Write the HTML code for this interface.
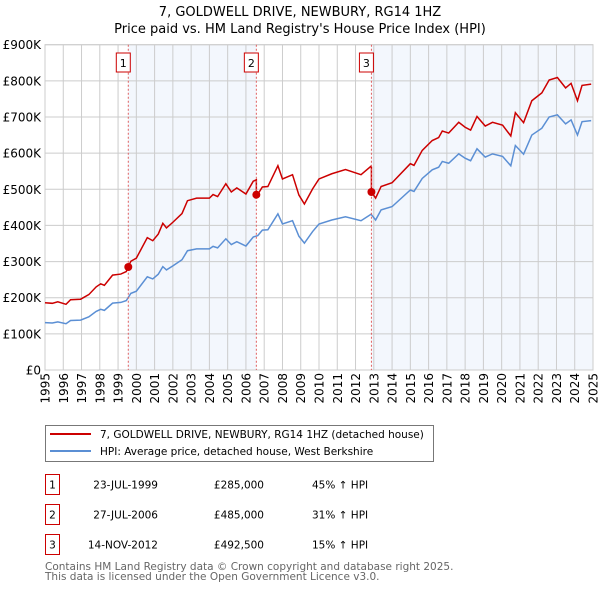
<!DOCTYPE html>
<html><head><meta charset="utf-8"><style>
body{margin:0;background:#fff;font-family:"DejaVu Sans","Liberation Sans",sans-serif;}
svg text{font-family:"DejaVu Sans","Liberation Sans",sans-serif;}
</style></head><body>
<svg id="chart" width="600" height="590" viewBox="0 0 600 590" xmlns="http://www.w3.org/2000/svg">
<text x="300" y="16" text-anchor="middle" font-size="13">7, GOLDWELL DRIVE, NEWBURY, RG14 1HZ</text>
<text x="300" y="33" text-anchor="middle" font-size="13">Price paid vs. HM Land Registry's House Price Index (HPI)</text>
<g id="plot"></g>
<g>
<rect x="45.5" y="425.5" width="388" height="36" fill="#fff" stroke="#777"/>
<line x1="50" y1="434" x2="91" y2="434" stroke="#cc0000" stroke-width="2"/>
<text x="100" y="438" font-size="10.5">7, GOLDWELL DRIVE, NEWBURY, RG14 1HZ (detached house)</text>
<line x1="50" y1="451" x2="91" y2="451" stroke="#5b8fd4" stroke-width="2"/>
<text x="100" y="455" font-size="10.5">HPI: Average price, detached house, West Berkshire</text>
</g>
<g id="table"></g>
<text x="45" y="570" font-size="10.5" fill="#666">Contains HM Land Registry data © Crown copyright and database right 2025.</text>
<text x="45" y="580" font-size="10.5" fill="#666">This data is licensed under the Open Government Licence v3.0.</text>
</svg>
<script>
const hpiYears=[1995.0,1995.4,1995.7,1996.15,1996.4,1996.95,1997.4,1997.8,1998.05,1998.25,1998.7,1999.15,1999.45,1999.7,2000.0,2000.6,2000.9,2001.2,2001.45,2001.65,2002.0,2002.5,2002.8,2003.3,2004.0,2004.2,2004.45,2004.9,2005.2,2005.5,2006.0,2006.4,2006.65,2006.9,2007.2,2007.75,2008.0,2008.55,2008.9,2009.2,2009.65,2010.0,2010.7,2011.45,2012.3,2012.85,2013.1,2013.4,2014.0,2015.0,2015.2,2015.65,2016.2,2016.55,2016.75,2017.1,2017.65,2018.0,2018.3,2018.65,2019.1,2019.5,2020.05,2020.5,2020.75,2021.2,2021.65,2022.2,2022.6,2023.05,2023.5,2023.8,2024.15,2024.4,2024.9];
const hpiValues=[131,130,133,128,137,138,147,162,168,165,185,187,192,212,218,258,252,265,286,277,288,305,330,335,335,342,338,363,347,355,343,368,372,387,388,432,404,413,370,351,383,404,415,424,413,431,415,443,452,498,494,530,554,561,577,572,598,586,579,612,589,598,591,565,621,597,650,669,700,706,681,692,650,687,690];
const saleYears=[1999.56,2006.57,2012.87];
const salePrices=[285,485,492.5];
const saleLabels=["1","2","3"];
const saleDates=["23-JUL-1999","27-JUL-2006","14-NOV-2012"];
const salePriceText=["£285,000","£485,000","£492,500"];
const saleDiffs=["45% ↑ HPI","31% ↑ HPI","15% ↑ HPI"];
const yTicks=[0,100,200,300,400,500,600,700,800,900];
const yTickLabels=["£0","£100K","£200K","£300K","£400K","£500K","£600K","£700K","£800K","£900K"];
const xTicks=[1995,1996,1997,1998,1999,2000,2001,2002,2003,2004,2005,2006,2007,2008,2009,2010,2011,2012,2013,2014,2015,2016,2017,2018,2019,2020,2021,2022,2023,2024,2025];

const X0=45,X1=593,Y0=370,Y1=44.7;
const sx=y=>X0+(y-1995)/30*(X1-X0);
const sy=v=>Y0-v/900*(Y0-Y1);
const NS="http://www.w3.org/2000/svg";
function mk(tag,attrs,parent){const e=document.createElementNS(NS,tag);for(const k in attrs)e.setAttribute(k,attrs[k]);parent.appendChild(e);return e;}
const plot=document.getElementById('plot');
function hpiAt(t){for(let i=1;i<hpiYears.length;i++){if(t<=hpiYears[i]){const f=(t-hpiYears[i-1])/(hpiYears[i]-hpiYears[i-1]);return hpiValues[i-1]+f*(hpiValues[i]-hpiValues[i-1]);}}return hpiValues[hpiValues.length-1];}
let s1=mk('rect',{x:sx(saleYears[0]),y:Y1,width:sx(saleYears[1])-sx(saleYears[0]),height:Y0-Y1,fill:'#eef3fc',opacity:0.7},plot);


let s2=mk('rect',{x:sx(saleYears[2]),y:Y1,width:X1-sx(saleYears[2]),height:Y0-Y1,fill:'#eef3fc',opacity:0.7},plot);


yTicks.forEach((v,i)=>{
 const l=mk('line',{x1:X0,x2:X1,y1:sy(v),y2:sy(v),stroke:'#cccccc','stroke-width':1},plot);
 
 
 const t=mk('text',{x:X0-4,y:sy(v)+4.5,'text-anchor':'end','font-size':12},plot);
 
 
 t.textContent=yTickLabels[i];
});
xTicks.forEach(y=>{
 const l=mk('line',{x1:sx(y),x2:sx(y),y1:Y1,y2:Y0,stroke:'#cccccc','stroke-width':1},plot);
 
 
 const t=mk('text',{x:0,y:0,'text-anchor':'end','font-size':12,transform:`translate(${sx(y)+4.5},${Y0+3}) rotate(-90)`},plot);
 
 
 t.textContent=y;
});
const fr=mk('rect',{x:X0,y:Y1,width:X1-X0,height:Y0-Y1,fill:'none',stroke:'#cccccc'},plot);


const hp=mk('polyline',{points:hpiYears.map((y,i)=>sx(y)+','+sy(hpiValues[i])).join(' '),fill:'none',stroke:'#5b8fd4','stroke-width':1.5},plot);


function ratioAt(t){let k=0;for(let i=0;i<saleYears.length;i++)if(t>=saleYears[i])k=i;return salePrices[k]/hpiAt(saleYears[k]);}
let pts=[];
const allT=hpiYears.concat(saleYears).sort((a,b)=>a-b);
allT.forEach(t=>{
 const si=saleYears.indexOf(t);
 if(si>0){pts.push([t,hpiAt(t)*salePrices[si-1]/hpiAt(saleYears[si-1])]);}
 pts.push([t,hpiAt(t)*ratioAt(t)]);
});
const pl=mk('polyline',{points:pts.map(p=>sx(p[0])+','+sy(p[1])).join(' '),fill:'none',stroke:'#cc0000','stroke-width':1.5},plot);


saleYears.forEach((y,i)=>{
 const l=mk('line',{x1:sx(y),x2:sx(y),y1:Y1,y2:Y0,stroke:'#e06060','stroke-width':1,'stroke-dasharray':'2,2'},plot);
 
 
 const b=mk('rect',{x:sx(y)-12,y:53,width:14,height:19,fill:'#fff',stroke:'#cc0000'},plot);
 
 
 const t=mk('text',{x:sx(y)-5,y:67,'text-anchor':'middle','font-size':11},plot);
 
 
 t.textContent=saleLabels[i];
 const c=mk('circle',{cx:sx(y),cy:sy(salePrices[i]),r:4,fill:'#cc0000'},plot);
 
 
});
const tb=document.getElementById('table');
saleLabels.forEach((s,i)=>{
 const yy=483+i*30;
 const b=mk('rect',{x:45.5,y:yy-8.5,width:14,height:20,fill:'#fff',stroke:'#cc0000'},tb);
 
 
 const a=mk('text',{x:52.5,y:yy+5.5,'text-anchor':'middle','font-size':10.5},tb);a.textContent=s;
 
 
 const d=mk('text',{x:158,y:yy+5.5,'text-anchor':'end','font-size':10.5},tb);d.textContent=saleDates[i];
 
 
 const p=mk('text',{x:264,y:yy+5.5,'text-anchor':'end','font-size':10.5},tb);p.textContent=salePriceText[i];
 
 
 const h=mk('text',{x:312,y:yy+5.5,'font-size':10.5},tb);h.textContent=saleDiffs[i];
 
 
});
</script>
</body></html>
